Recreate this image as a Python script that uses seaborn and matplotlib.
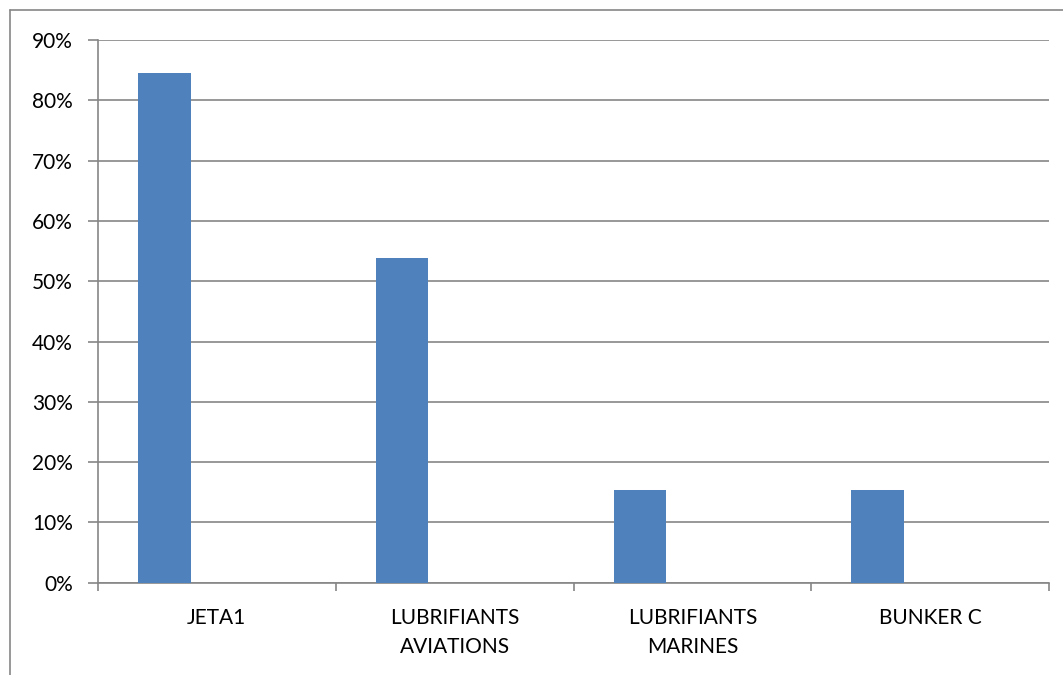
import numpy as np
import pandas as pd
import seaborn as sns
import matplotlib
matplotlib.use("Agg")
import matplotlib.pyplot as plt
from matplotlib.lines import Line2D
from matplotlib.ticker import PercentFormatter, FixedLocator

# Share of each product (fraction)
categories = ["JETA1", "LUBRIFIANTS\nAVIATIONS", "LUBRIFIANTS\nMARINES", "BUNKER C"]
series_1 = [0.846, 0.538, 0.154, 0.154]
series_2 = [np.nan, np.nan, np.nan, np.nan]
series_3 = [np.nan, np.nan, np.nan, np.nan]
series_names = ["Série1", "Série2", "Série3"]
y_ticks = [0.0, 0.1, 0.2, 0.3, 0.4, 0.5, 0.6, 0.7, 0.8, 0.9]

df = pd.DataFrame({
    "categorie": categories * 3,
    "serie": [s for s in series_names for _ in categories],
    "valeur": series_1 + series_2 + series_3,
})

sns.set_theme(style="white")
plt.rcParams["font.family"] = ["Lato", "DejaVu Sans"]

W, H, DPI = 1063, 675, 100
fig = plt.figure(figsize=(W / DPI, H / DPI), dpi=DPI)
fig.patch.set_facecolor("white")
ax = fig.add_axes([98 / W, 1 - 582.7 / H, (1049 - 98) / W, (582.7 - 40) / H])

grey = "#868686"
blue = "#4F81BD"

sns.barplot(
    data=df, x="categorie", y="valeur", hue="serie",
    order=categories, hue_order=series_names,
    palette={"Série1": blue, "Série2": "#C0504D", "Série3": "#9BBB59"},
    width=0.6625, dodge=True, gap=0, linewidth=0, saturation=1,
    legend=False, ax=ax, zorder=3,
)

ax.set_xlim(-0.5, len(categories) - 0.5)
ax.set_ylim(0, 0.9)
ax.set_yticks(y_ticks)
ax.yaxis.set_major_formatter(PercentFormatter(1.0, decimals=0))
ax.set_xlabel("")
ax.set_ylabel("")

ax.grid(axis="y", color=grey, linewidth=1.2, zorder=0)
ax.grid(axis="x", visible=False)
ax.set_axisbelow(True)

for side in ("top", "right"):
    ax.spines[side].set_visible(False)
for side in ("left", "bottom"):
    ax.spines[side].set_color(grey)
    ax.spines[side].set_linewidth(1.2)

ax.tick_params(axis="y", which="major", direction="out", length=7, width=1.2,
               color=grey, pad=11, labelsize=15, labelcolor="black", left=True)
ax.tick_params(axis="x", which="major", length=0, pad=18.5, labelsize=15,
               labelcolor="black")
ax.xaxis.set_minor_locator(FixedLocator(np.arange(-0.5, len(categories), 1.0)))
ax.tick_params(axis="x", which="minor", direction="out", length=6, width=1.2,
               color=grey, bottom=True)
for lbl in ax.get_xticklabels():
    lbl.set_linespacing(1.55)
    lbl.set_verticalalignment("top")

# Chart area frame (top and left edges)
fig.add_artist(Line2D([10 / W, 10 / W], [0, 1 - 10 / H], transform=fig.transFigure,
                      color=grey, linewidth=1.2))
fig.add_artist(Line2D([10 / W, 1], [1 - 10 / H, 1 - 10 / H], transform=fig.transFigure,
                      color=grey, linewidth=1.2))

fig.savefig("out.png", dpi=DPI)
